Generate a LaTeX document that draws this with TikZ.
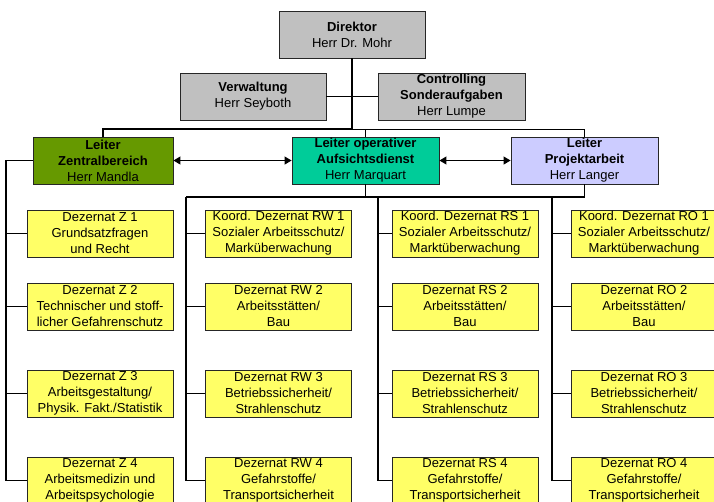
\documentclass[tikz,border=0pt]{standalone}
\usepackage{fontspec}
\setmainfont{Liberation Sans}
\usetikzlibrary{arrows.meta}
\definecolor{boxgray}{RGB}{192,192,192}
\definecolor{boxgreen}{RGB}{102,153,0}
\definecolor{boxteal}{RGB}{0,204,153}
\definecolor{boxlav}{RGB}{204,204,255}
\definecolor{boxyel}{RGB}{255,255,102}
\tikzset{
  orgbox/.style={draw=black!85, line width=0.9pt, rectangle, align=center,
    minimum width=146pt, minimum height=47pt, inner sep=0pt,
    font=\fontsize{13}{16}\selectfont},
  graybox/.style={orgbox, fill=boxgray},
  yelbox/.style={orgbox, fill=boxyel},
  thickline/.style={line width=1.4pt, black},
  busline/.style={line width=1.15pt, black},
  thinline/.style={line width=1pt, black},
  dblarrow/.style={line width=1.2pt, {Triangle[length=7pt,width=8pt]}-{Triangle[length=7pt,width=8pt]}}
}
\begin{document}
\begin{tikzpicture}[x=1pt,y=-1pt]
\clip (0,0) rectangle (714,501);
\fill[white] (0,0) rectangle (714,501);
% top level
\node[graybox] (dir) at (352,34.5) {\textbf{Direktor}\\Herr Dr. Mohr};
\node[graybox] (verw) at (253,96.5) {\textbf{Verwaltung}\\Herr Seyboth};
\node[graybox, minimum width=147pt] (ctrl) at (451.5,96.5) {\textbf{Controlling}\\\textbf{Sonderaufgaben}\\Herr Lumpe};
% leiter
\node[orgbox, fill=boxgreen, minimum width=140pt] (zen) at (103,160.5) {\textbf{Leiter}\\\textbf{Zentralbereich}\\Herr Mandla};
\node[orgbox, fill=boxteal, minimum width=147pt] (op) at (365.5,160.5) {\textbf{Leiter operativer}\\\textbf{Aufsichtsdienst}\\Herr Marquart};
\node[orgbox, fill=boxlav, minimum width=147pt] (proj) at (584.5,160.5) {\textbf{Leiter}\\\textbf{Projektarbeit}\\Herr Langer};
% Z column
\node[yelbox] (z1) at (100,233.5) {Dezernat Z 1\\Grundsatzfragen\\und Recht};
\node[yelbox] (z2) at (100,306.5) {Dezernat Z 2\\Technischer und stoff-\\licher Gefahrenschutz};
\node[yelbox] (z3) at (100,393.5) {Dezernat Z 3\\Arbeitsgestaltung/\\Physik. Fakt./Statistik};
\node[yelbox] (z4) at (100,480.5) {Dezernat Z 4\\Arbeitsmedizin und\\Arbeitspsychologie};
% RW column
\node[yelbox] (rw1) at (278.5,233.5) {Koord. Dezernat RW 1\\Sozialer Arbeitsschutz/\\Marküberwachung};
\node[yelbox] (rw2) at (278.5,306.5) {Dezernat RW 2\\Arbeitsstätten/\\Bau};
\node[yelbox] (rw3) at (278.5,393.5) {Dezernat RW 3\\Betriebssicherheit/\\Strahlenschutz};
\node[yelbox] (rw4) at (278.5,480.5) {Dezernat RW 4\\Gefahrstoffe/\\Transportsicherheit};
% RS column
\node[yelbox] (rs1) at (465,233.5) {Koord. Dezernat RS 1\\Sozialer Arbeitsschutz/\\Marktüberwachung};
\node[yelbox] (rs2) at (465,306.5) {Dezernat RS 2\\Arbeitsstätten/\\Bau};
\node[yelbox] (rs3) at (465,393.5) {Dezernat RS 3\\Betriebssicherheit/\\Strahlenschutz};
\node[yelbox] (rs4) at (465,480.5) {Dezernat RS 4\\Gefahrstoffe/\\Transportsicherheit};
% RO column
\node[yelbox] (ro1) at (644,233.5) {Koord. Dezernat RO 1\\Sozialer Arbeitsschutz/\\Marktüberwachung};
\node[yelbox] (ro2) at (644,306.5) {Dezernat RO 2\\Arbeitsstätten/\\Bau};
\node[yelbox] (ro3) at (644,393.5) {Dezernat RO 3\\Betriebssicherheit/\\Strahlenschutz};
\node[yelbox] (ro4) at (644,480.5) {Dezernat RO 4\\Gefahrstoffe/\\Transportsicherheit};
% helper coordinates
\coordinate (tb) at (0,129);
\coordinate (lb) at (0,197);
\coordinate (zl) at (6,0);
\coordinate (rwl) at (186,197);
\coordinate (rsl) at (378,197);
\coordinate (rol) at (552,197);
% top connectors
\draw[thickline] (dir.south) -- (dir.south |- tb);
\draw[thickline] (zen.north) -- (zen.north |- tb) -- (dir.south |- tb);
\draw[thinline] (dir.south |- tb) -- (proj.north |- tb) -- (proj.north);
\draw[thinline] (op.north) -- (op.north |- tb);
\draw[thinline] (verw.east) -- (ctrl.west);
% arrows
\draw[dblarrow] (zen.east) -- (op.west);
\draw[dblarrow] (op.east) -- (proj.west);
% Z connectors
\draw[thickline] (zen.west) -- (zen.west -| zl) |- (z4.west);
\foreach \n in {z1,z2,z3} \draw[thinline] (\n.west -| zl) -- (\n.west);
% lower bus
\draw[thinline] (op.south) -- (op.south |- lb);
\draw[thinline] (proj.south) -- (proj.south |- lb);
\draw[busline] (rwl) -- (proj.south |- lb);
\draw[busline] (rwl) |- (rw4.west);
\draw[busline] (rsl) |- (rs4.west);
\draw[busline] (rol) |- (ro4.west);
\foreach \n in {rw1,rw2,rw3} \draw[thinline] (\n.west -| rwl) -- (\n.west);
\foreach \n in {rs1,rs2,rs3} \draw[thinline] (\n.west -| rsl) -- (\n.west);
\foreach \n in {ro1,ro2,ro3} \draw[thinline] (\n.west -| rol) -- (\n.west);
\end{tikzpicture}
\end{document}
